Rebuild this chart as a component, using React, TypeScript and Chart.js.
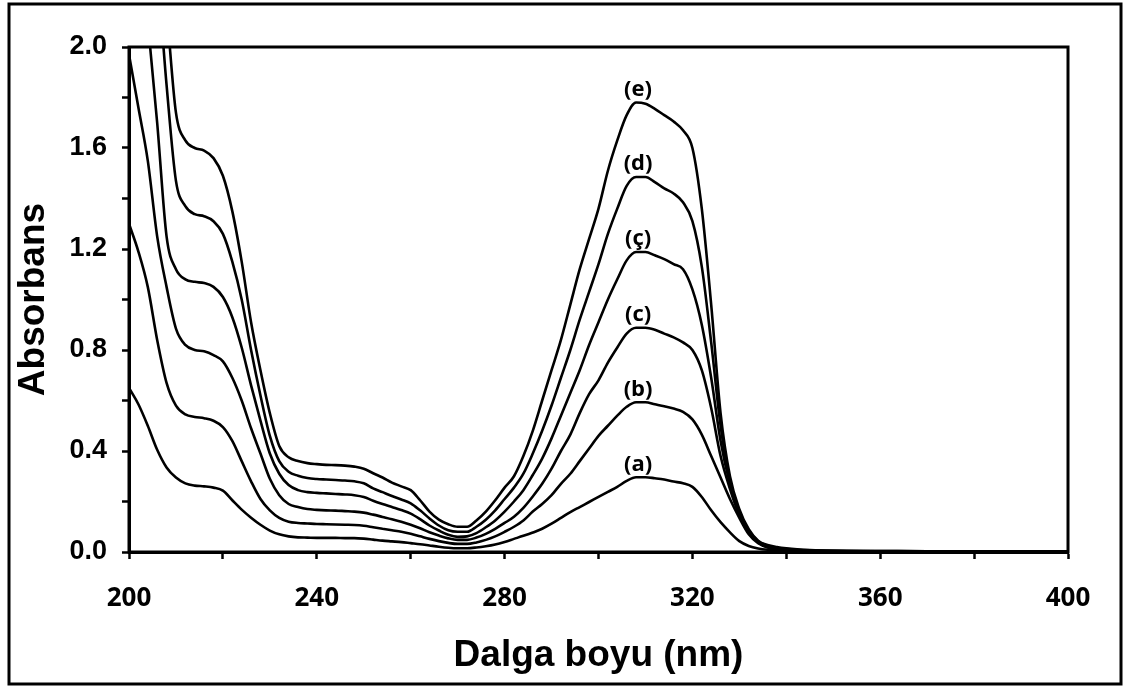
import React, { useEffect, useRef } from "react";
import { Chart, registerables } from "chart.js";

Chart.register(...registerables);

const wavelengths = [
  200, 202, 204, 206, 208, 210, 212, 214, 216, 218,
  220, 222, 224, 226, 228, 230, 232, 234, 236, 238,
  240, 242, 244, 246, 248, 250, 252, 254, 256, 258,
  260, 262, 264, 266, 268, 270, 272, 274, 276, 278,
  280, 282, 284, 286, 288, 290, 292, 294, 296, 298,
  300, 302, 304, 306, 308, 310, 312, 314, 316, 318,
  320, 322, 324, 326, 328, 330, 332, 334, 336, 338,
  340, 345, 350, 360, 370, 380, 390, 400,
];

const seriesA = [
  0.65, 0.585, 0.50, 0.405, 0.335, 0.295, 0.272, 0.263, 0.26, 0.255,
  0.243, 0.205, 0.168, 0.136, 0.108, 0.085, 0.07, 0.062, 0.058, 0.057,
  0.056, 0.056, 0.056, 0.055, 0.055, 0.053, 0.049, 0.045, 0.042, 0.039,
  0.035, 0.031, 0.026, 0.021, 0.017, 0.015, 0.015, 0.018, 0.023, 0.03,
  0.04, 0.052, 0.064, 0.077, 0.092, 0.112, 0.135, 0.158, 0.178, 0.198,
  0.218, 0.238, 0.258, 0.282, 0.296, 0.296, 0.292, 0.287, 0.279, 0.272,
  0.258, 0.218, 0.165, 0.118, 0.078, 0.043, 0.024, 0.014, 0.009, 0.007,
  0.005, 0.004, 0.003, 0.003, 0.002, 0.002, 0.002, 0.002,
];

const seriesB = [
  1.30, 1.19, 1.05, 0.84, 0.67, 0.58, 0.545, 0.535, 0.53, 0.52,
  0.495, 0.44, 0.36, 0.28, 0.21, 0.165, 0.135, 0.12, 0.115, 0.113,
  0.111, 0.11, 0.109, 0.108, 0.107, 0.104, 0.098, 0.092, 0.086, 0.08,
  0.072, 0.062, 0.052, 0.043, 0.036, 0.032, 0.032, 0.038, 0.048, 0.062,
  0.08, 0.1, 0.125, 0.16, 0.19, 0.225, 0.27, 0.31, 0.36, 0.41,
  0.46, 0.5, 0.54, 0.575, 0.593, 0.593, 0.585, 0.577, 0.568, 0.555,
  0.525, 0.465, 0.38, 0.295, 0.21, 0.135, 0.07, 0.035, 0.018, 0.01,
  0.007, 0.004, 0.003, 0.003, 0.002, 0.002, 0.002, 0.002,
];

const seriesC = [
  1.97, 1.76, 1.55, 1.25, 1.05, 0.885, 0.82, 0.80, 0.795, 0.78,
  0.755, 0.69, 0.60, 0.49, 0.39, 0.29, 0.225, 0.19, 0.178, 0.17,
  0.167, 0.165, 0.164, 0.162, 0.16, 0.156, 0.148, 0.139, 0.13, 0.12,
  0.108, 0.094, 0.078, 0.065, 0.054, 0.048, 0.048, 0.057, 0.072, 0.092,
  0.115, 0.14, 0.175, 0.22, 0.27, 0.33, 0.40, 0.465, 0.55, 0.625,
  0.68, 0.75, 0.81, 0.865, 0.888, 0.888, 0.88, 0.865, 0.85, 0.83,
  0.80, 0.72, 0.57, 0.38, 0.25, 0.145, 0.075, 0.038, 0.02, 0.012,
  0.009, 0.005, 0.004, 0.003, 0.003, 0.002, 0.002, 0.002,
];

const seriesCc = [
  2.7, 2.45, 2.1, 1.7, 1.25, 1.12, 1.08, 1.07, 1.065, 1.05,
  1.01, 0.93, 0.81, 0.66, 0.52, 0.39, 0.31, 0.265, 0.245, 0.237,
  0.234, 0.232, 0.23, 0.228, 0.225, 0.218, 0.203, 0.19, 0.178, 0.166,
  0.152, 0.13, 0.105, 0.085, 0.068, 0.06, 0.062, 0.075, 0.098, 0.125,
  0.16, 0.2, 0.245, 0.305, 0.37, 0.45, 0.54, 0.63, 0.72, 0.82,
  0.91, 1.0, 1.08, 1.155, 1.188, 1.188, 1.175, 1.16, 1.14, 1.12,
  1.04, 0.9, 0.69, 0.44, 0.27, 0.155, 0.08, 0.04, 0.022, 0.014,
  0.01, 0.006, 0.004, 0.003, 0.003, 0.002, 0.002, 0.002,
];

const seriesD = [
  3.0, 2.8, 2.55, 2.3, 1.85, 1.47, 1.37, 1.338, 1.33, 1.31,
  1.26, 1.15, 1.0, 0.8, 0.62, 0.46, 0.36, 0.318, 0.302, 0.293,
  0.289, 0.287, 0.285, 0.283, 0.28, 0.272, 0.252, 0.237, 0.222, 0.208,
  0.193, 0.165, 0.133, 0.105, 0.086, 0.08, 0.08, 0.1, 0.128, 0.165,
  0.21, 0.255, 0.31, 0.39, 0.48, 0.58, 0.69, 0.8, 0.92, 1.03,
  1.14, 1.26, 1.36, 1.45, 1.485, 1.485, 1.465, 1.44, 1.42, 1.385,
  1.31, 1.13, 0.83, 0.5, 0.285, 0.162, 0.085, 0.043, 0.025, 0.016,
  0.012, 0.007, 0.005, 0.004, 0.003, 0.003, 0.002, 0.002,
];

const seriesE = [
  3.2, 3.0, 2.8, 2.5, 2.15, 1.74, 1.63, 1.60, 1.59, 1.56,
  1.49, 1.35, 1.15, 0.91, 0.72, 0.55, 0.42, 0.375, 0.36, 0.352,
  0.348, 0.345, 0.344, 0.342, 0.338, 0.33, 0.312, 0.295, 0.275, 0.26,
  0.245, 0.205, 0.16, 0.128, 0.11, 0.10, 0.10, 0.125, 0.16, 0.205,
  0.255, 0.3, 0.38, 0.48, 0.6, 0.72, 0.84, 0.98, 1.12, 1.24,
  1.36, 1.51, 1.63, 1.73, 1.78, 1.775, 1.755, 1.73, 1.705, 1.67,
  1.6, 1.36, 0.98, 0.55, 0.30, 0.17, 0.09, 0.045, 0.028, 0.02,
  0.015, 0.008, 0.005, 0.004, 0.003, 0.003, 0.002, 0.002,
];

const seriesLabels = ["(a)", "(b)", "(c)", "(ç)", "(d)", "(e)"];
const seriesValues = [seriesA, seriesB, seriesC, seriesCc, seriesD, seriesE];

const xTitle = "Dalga boyu (nm)";
const yTitle = "Absorbans";

const framePlugin = {
  id: "framePlugin",
  afterDatasetsDraw(chart: any) {
    const { ctx, chartArea, scales } = chart;
    ctx.save();
    ctx.strokeStyle = "#000";
    ctx.lineWidth = 3;
    ctx.strokeRect(chartArea.left, chartArea.top, chartArea.right - chartArea.left, chartArea.bottom - chartArea.top);
    ctx.fillStyle = "#000";
    ctx.font = "bold 22px 'Open Sans', 'Noto Sans', sans-serif";
    ctx.textAlign = "center";
    ctx.textBaseline = "bottom";
    seriesValues.forEach((vals, i) => {
      let best = -Infinity;
      let bx = 0;
      wavelengths.forEach((w, j) => {
        if (w >= 290 && w <= 330 && vals[j] > best) {
          best = vals[j];
          bx = w;
        }
      });
      const px = scales.x.getPixelForValue(bx);
      const py = scales.y.getPixelForValue(best);
      ctx.fillText(seriesLabels[i], px + 2, py - 2);
    });
    ctx.restore();
  },
  afterDraw(chart: any) {
    const { ctx } = chart;
    ctx.save();
    ctx.strokeStyle = "#000";
    ctx.lineWidth = 3;
    ctx.strokeRect(9, 4, 1112, 680);
    ctx.restore();
  },
};

export default function App() {
  const ref = useRef<HTMLCanvasElement | null>(null);
  useEffect(() => {
    if (!ref.current) return;
    const datasets = seriesValues.map((vals, i) => ({
      label: seriesLabels[i],
      data: wavelengths.map((w, j) => ({ x: w, y: vals[j] })),
      borderColor: "#000",
      borderWidth: 2.6,
      pointRadius: 0,
      fill: false,
      cubicInterpolationMode: "monotone" as const,
    }));
    const chart = new Chart(ref.current, {
      type: "line",
      data: { datasets },
      plugins: [framePlugin],
      options: {
        animation: false,
        responsive: false,
        devicePixelRatio: 1,
        layout: { padding: { top: 47, right: 57, left: 0, bottom: 0 } },
        plugins: { legend: { display: false }, tooltip: { enabled: false } },
        scales: {
          x: {
            type: "linear",
            min: 200,
            max: 400,
            afterFit: (s: any) => { s.height = 138; },
            ticks: {
              stepSize: 20,
              color: "#000",
              padding: 24,
              maxRotation: 0,
              font: { family: "'Open Sans', 'Noto Sans', sans-serif", weight: "bold", size: 26 },
              callback: (v: any) => ((Number(v) - 200) % 40 === 0 ? String(v) : ""),
            },
            grid: { drawOnChartArea: false, drawTicks: true, tickLength: 7, tickWidth: 2.5, color: "#000" },
            border: { display: true, width: 3, color: "#000" },
            title: {
              display: true,
              text: xTitle,
              color: "#000",
              font: { family: "'Liberation Sans', Arial, sans-serif", weight: "bold", size: 37 },
              padding: { top: 0, bottom: 12 },
            },
          },
          y: {
            type: "linear",
            min: 0,
            max: 2,
            afterFit: (s: any) => { s.width = 129; },
            ticks: {
              stepSize: 0.2,
              color: "#000",
              padding: 15,
              font: { family: "'Liberation Sans', Arial, sans-serif", weight: "bold", size: 27 },
              callback: (v: any, idx: number) => (idx % 2 === 0 ? Number(v).toFixed(1) : ""),
            },
            grid: { drawOnChartArea: false, drawTicks: true, tickLength: 7, tickWidth: 2.5, color: "#000" },
            border: { display: true, width: 3, color: "#000" },
            title: {
              display: true,
              text: yTitle,
              color: "#000",
              font: { family: "'Liberation Sans', Arial, sans-serif", weight: "bold", size: 37 },
              padding: { top: 12, bottom: 0 },
            },
          },
        },
      },
    });
    return () => chart.destroy();
  }, []);
  return (
    <div style={{ position: "absolute", left: 0, top: 0, width: 1125, height: 690, background: "#fff" }}>
      <canvas ref={ref} width={1125} height={690} style={{ display: "block" }} />
    </div>
  );
}
